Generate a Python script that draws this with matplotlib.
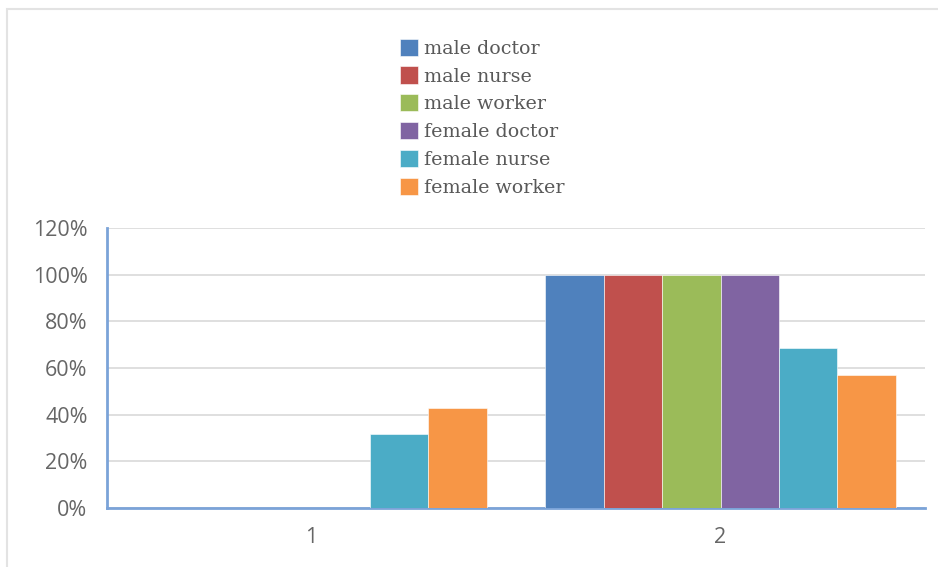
import numpy as np
import matplotlib.pyplot as plt
from matplotlib.patches import Rectangle
from matplotlib.ticker import PercentFormatter

categories = ["1", "2"]
series = ["male doctor", "male nurse", "male worker",
          "female doctor", "female nurse", "female worker"]
values = {
    "male doctor":   [0.0, 100.0],
    "male nurse":    [0.0, 100.0],
    "male worker":   [0.0, 100.0],
    "female doctor": [0.0, 100.0],
    "female nurse":  [31.7, 68.5],
    "female worker": [42.8, 57.0],
}
colors = ["#4f81bd", "#c0504d", "#9bbb59", "#8064a2", "#4bacc6", "#f79646"]

fig = plt.figure(figsize=(9.38, 5.67), dpi=100)
ax = fig.add_axes([107 / 938, 1 - 508 / 567, (925 - 107) / 938, (508 - 228) / 567])

# light frame around chart area
fig.patches.append(Rectangle((7 / 938, -0.02), 1.05, 1 - 9 / 567 + 0.02,
                             transform=fig.transFigure, fill=False,
                             edgecolor="#e3e3e3", linewidth=1.5))

x = np.arange(len(categories)) + 1
w = 1 / 7
n = len(series)
handles = []
for i, (name, c) in enumerate(zip(series, colors)):
    off = (i - (n - 1) / 2) * w
    b = ax.bar(x + off, values[name], width=w, color=c, label=name,
               edgecolor="white", linewidth=0.4, zorder=3)
    handles.append(b)

ax.set_xlim(0.5, 2.5)
ax.set_ylim(0, 120)
ax.set_yticks(np.arange(0, 121, 20))
ax.yaxis.set_major_formatter(PercentFormatter(decimals=0))
ax.set_xticks(x)
ax.set_xticklabels(categories)

ax.grid(axis="y", color="#d9d9d9", linewidth=1.2, zorder=0)
for s in ["top", "right"]:
    ax.spines[s].set_visible(False)
for s in ["left", "bottom"]:
    ax.spines[s].set_color("#7ba3d8")
    ax.spines[s].set_linewidth(2)
ax.tick_params(length=0, labelsize=15.5, colors="#666666")
ax.tick_params(axis="x", pad=14)
ax.tick_params(axis="y", pad=14)
for lab in ax.get_xticklabels() + ax.get_yticklabels():
    lab.set_family("Open Sans")

leg = fig.legend(handles=handles, labels=series, loc="upper left",
                 bbox_to_anchor=(390 / 938, 1 - 29 / 567), frameon=False,
                 prop={"family": "DejaVu Serif", "size": 13.7},
                 handlelength=0.95, handleheight=1.0, handletextpad=0.35,
                 labelspacing=0.47, borderpad=0)
for t in leg.get_texts():
    t.set_color("#595959")

fig.savefig("out.png", dpi=100)
